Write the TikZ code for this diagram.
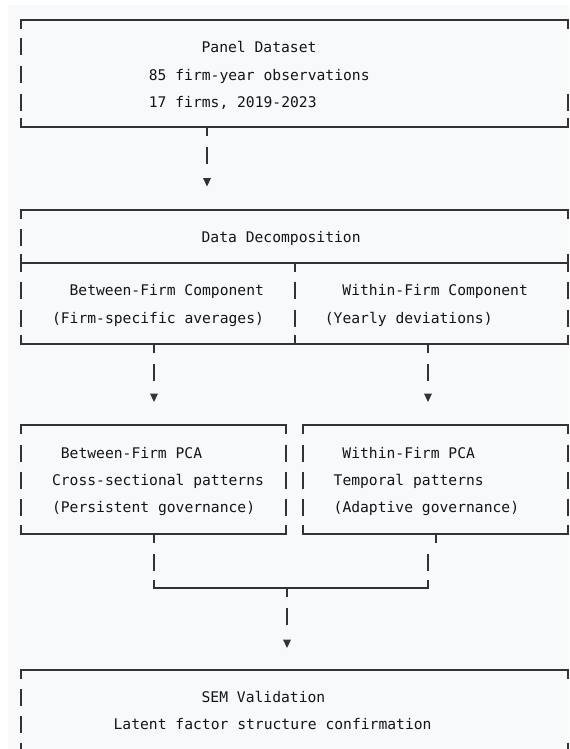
\documentclass[tikz,border=0pt]{standalone}
\usepackage{fontspec}
\setmonofont{DejaVu Sans Mono}
\definecolor{lncol}{HTML}{333333}
\definecolor{txtcol}{HTML}{151515}
\definecolor{bgcol}{HTML}{F8F9FA}
\newcommand\myseg[2]{\draw[ln] (#1,{#2-8.5}) -- (#1,{#2+8.5});}
\newcommand\mytri[2]{\fill[lncol] ({#1-4},{#2-4.5}) -- ({#1+4},{#2-4.5}) -- (#1,{#2+4}) -- cycle;}
\begin{document}
\begin{tikzpicture}[x=0.75pt,y=-0.75pt,
  ln/.style={draw=lncol, line width=1.3pt},
  txt/.style={font=\ttfamily\fontsize{11}{13}\selectfont, text=txtcol, inner sep=0pt, anchor=base west}]
\useasboundingbox (0,0) rectangle (569,749);
\fill[white] (0,0) rectangle (569,749);
\fill[bgcol] (8,5) rectangle (569,749);

% ---------- Box 1: Panel Dataset
\draw[ln] (21,29) -- (21,20) -- (568,20) -- (568,29);
\draw[ln] (21,118) -- (21,127) -- (568,127) -- (568,118);
\foreach \r in {47,74.5,102} {\myseg{21}{\r}}
\myseg{568}{102}
\node[txt] (p1) at (201.4,52.5) {Panel Dataset};
\node[txt] (p2) at (148.6,80) {85 firm-year observations};
\node[txt] (p3) at (148.6,107.5) {17 firms, 2019-2023};

% ---------- Arrow 1
\draw[ln] (207,127) -- (207,136);
\myseg{207}{155.5}
\mytri{207}{182.5}

% ---------- Box 2: Data Decomposition
\draw[ln] (21,219) -- (21,210) -- (568,210) -- (568,219);
\myseg{21}{237}
\draw[ln] (21,254) -- (21,272);
\draw[ln] (568,254) -- (568,272);
\draw[ln] (21,263) -- (568,263);
\draw[ln] (295,263) -- (295,272);
\foreach \r in {290,318} {\myseg{21}{\r}\myseg{295}{\r}\myseg{568}{\r}}
\draw[ln] (21,335) -- (21,344) -- (568,344) -- (568,335);
\draw[ln] (295,344) -- (295,335);
\node[txt] (d0) at (201.4,242.5) {Data Decomposition};
\node[txt] (d1) at (69.4,295.5) {Between-Firm Component};
\node[txt] (d2) at (51.8,323.5) {(Firm-specific averages)};
\node[txt] (d3) at (342.2,295.5) {Within-Firm Component};
\node[txt] (d4) at (324.6,323.5) {(Yearly deviations)};

% ---------- Arrows 2
\foreach \x in {154,428} {\draw[ln] (\x,344) -- (\x,353); \myseg{\x}{372}\mytri{\x}{398}}

% ---------- Box 3a
\draw[ln] (21,434) -- (21,425) -- (286,425) -- (286,434);
\draw[ln] (21,525) -- (21,534) -- (286,534) -- (286,525);
% ---------- Box 3b
\draw[ln] (303,434) -- (303,425) -- (568,425) -- (568,434);
\draw[ln] (303,525) -- (303,534) -- (568,534) -- (568,525);
\foreach \r in {453,480,507} {\myseg{21}{\r}\myseg{286}{\r}\myseg{303}{\r}\myseg{568}{\r}}
\node[txt] (a1) at (60.6,458.5) {Between-Firm PCA};
\node[txt] (a2) at (51.8,485.5) {Cross-sectional patterns};
\node[txt] (a3) at (51.8,512.5) {(Persistent governance)};
\node[txt] (b1) at (342.2,458.5) {Within-Firm PCA};
\node[txt] (b2) at (333.4,485.5) {Temporal patterns};
\node[txt] (b3) at (333.4,512.5) {(Adaptive governance)};

% ---------- Merge
\draw[ln] (154,534) -- (154,543);
\draw[ln] (436,534) -- (436,543);
\myseg{154}{562}
\myseg{428}{562}
\draw[ln] (154,580) -- (154,588) -- (428,588) -- (428,580);
\draw[ln] (287,588) -- (287,597);
\myseg{287}{616}
\mytri{287}{644}

% ---------- Box 4: SEM Validation
\draw[ln] (21,679) -- (21,670) -- (568,670) -- (568,679);
\foreach \r in {697,724,751} {\myseg{21}{\r}}
\myseg{568}{751}
\node[txt] (s1) at (201.4,702.5) {SEM Validation};
\node[txt] (s2) at (113.4,729.5) {Latent factor structure confirmation};
\end{tikzpicture}
\end{document}
